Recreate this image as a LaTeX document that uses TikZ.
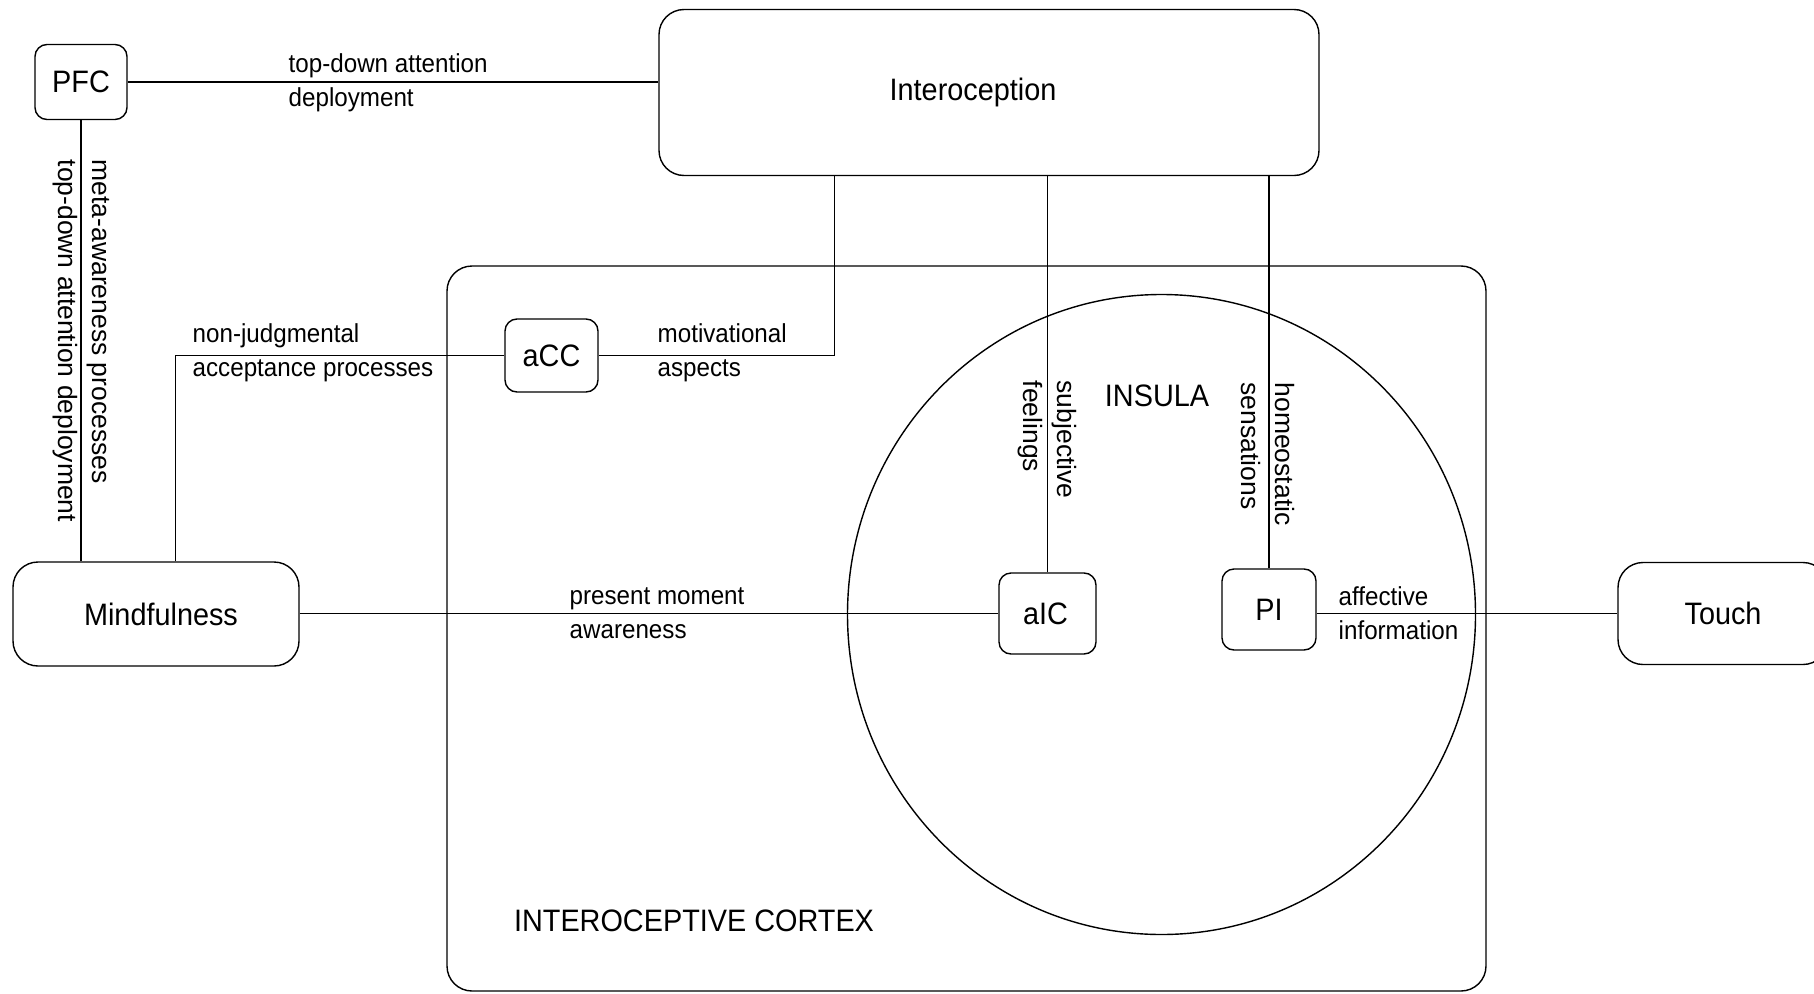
\documentclass[tikz,border=0pt]{standalone}
\usepackage{fontspec}
\setmainfont[FakeStretch=0.93]{Liberation Sans}
\newfontfamily\uprightlbl{Liberation Sans}

\begin{document}
\begin{tikzpicture}[x=1pt, y=-1pt, line width=1.4pt,
  box/.style={draw, rounded corners=12pt, inner sep=0pt, font=\fontsize{31}{37}\selectfont},
  bigbox/.style={box, rounded corners=25pt},
  lbl/.style={inner sep=0pt, align=left, font=\fontsize{26}{34}\selectfont},
  vlbl/.style={lbl, anchor=west, rotate=-90, font=\uprightlbl\fontsize{26.5}{34}\selectfont},
  region/.style={inner sep=0pt, font=\fontsize{31}{37}\selectfont}]
\useasboundingbox (0,0) rectangle (1814,993);

% interoceptive cortex and insula
\draw[rounded corners=25pt] (447,266) rectangle (1486,991);
\draw (1161.5,614.5) ellipse [x radius=314pt, y radius=320pt];
\node[region] (cortex) at (694,921) {INTEROCEPTIVE CORTEX};
\node[region] (insula) at (1157,396) {INSULA};

% boxes
\node[box, minimum width=92pt, minimum height=75pt] (pfc) at (81,82) {PFC};
\node[bigbox, minimum width=660pt, minimum height=166pt] (intero) at (989,92.5) {Interoception\hspace*{32pt}};
\node[bigbox, minimum width=286pt, minimum height=104pt] (mind) at (156,614) {\hspace*{10pt}Mindfulness};
\node[box, minimum width=93pt, minimum height=73pt] (acc) at (551.5,355.5) {aCC};
\node[box, minimum width=97pt, minimum height=81pt] (aic) at (1047.5,613.5) {aIC\hspace*{4pt}};
\node[box, minimum width=94pt, minimum height=81pt] (pi) at (1269,609.5) {PI};
\node[bigbox, minimum width=210pt, minimum height=102pt] (touch) at (1723,613.5) {Touch};

% connectors
\draw (pfc.east) -- (pfc.east -| intero.west);
\draw (pfc.south) -- (pfc.south |- mind.north);
\draw ([xshift=163pt]mind.north west) |- (acc.west);
\draw (acc.east) -| ([xshift=176pt]intero.south west);
\draw (aic.west -| mind.east) -- (aic.west);
\draw (aic.north) -- (aic.north |- intero.south);
\draw (pi.north) -- (pi.north |- intero.south);
\draw (touch.west -| pi.east) -- (touch.west);

% labels
\node[lbl, anchor=west] (lblattention) at (288,83) {top-down attention\\deployment};
\node[lbl, anchor=west] (lblacceptance) at (192,353) {non-judgmental\\acceptance processes};
\node[lbl, anchor=west] (lblmotivation) at (657,353) {motivational\\aspects};
\node[lbl, anchor=west] (lblpresent) at (569,613) {present moment\\awareness};
\node[lbl, anchor=west] (lblaffect) at (1338,613) {affective\\information};
\node[vlbl] (lblmeta) at (81,159) {meta-awareness processes\\top-down attention deployment};
\node[vlbl] (lblfeeling) at (1047,380) {subjective\\feelings};
\node[vlbl] (lblhomeo) at (1268,382) {homeostatic\\sensations};
\end{tikzpicture}
\end{document}
